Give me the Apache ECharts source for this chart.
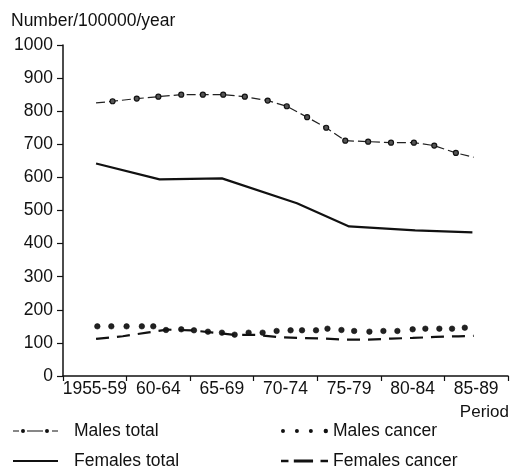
<!DOCTYPE html>
<html>
<head>
<meta charset="utf-8">
<script src="https://cdn.jsdelivr.net/npm/echarts@6/dist/echarts.min.js"></script>
<style>
  html, body { margin: 0; padding: 0; background: #fff; }
  #chart { width: 512px; height: 471px; }
</style>
</head>
<body>
<div id="chart"></div>
<script>
// Five-year periods shown on the category axis
const periods = ['1955-59', '60-64', '65-69', '70-74', '75-79', '80-84', '85-89'];

// Males, all causes (calendar year, rate per 100000 per year)
const malesTotalYears = [1957.6, 1958.9, 1960.8, 1962.5, 1964.3, 1966.0, 1967.6, 1969.3, 1971.1, 1972.6,
                         1974.2, 1975.7, 1977.2, 1979.0, 1980.8, 1982.6, 1984.2, 1985.9, 1987.3];
const malesTotal = [825, 830, 838, 844, 850, 850, 850, 844, 832, 815,
                    782, 750, 711, 708, 705, 705, 696, 674, 661];

// Females, all causes
const femalesTotalYears = [1957.6, 1962.6, 1967.5, 1973.4, 1977.5, 1982.7, 1987.2];
const femalesTotal = [642, 594, 597, 522, 452, 440, 434];

// Males, cancer
const malesCancerYears = [1957.7, 1958.8, 1960.0, 1961.2, 1962.1, 1963.1, 1964.3, 1965.3, 1966.4, 1967.5,
                          1968.5, 1969.6, 1970.7, 1971.8, 1972.9, 1973.8, 1974.9, 1975.8, 1976.9, 1977.9,
                          1979.1, 1980.2, 1981.3, 1982.5, 1983.5, 1984.6, 1985.6, 1986.6];
const malesCancer = [150, 150, 150, 150, 150, 139, 141, 138, 134, 131,
                     125, 131, 131, 136, 138, 138, 138, 143, 139, 136,
                     134, 136, 136, 141, 143, 143, 143, 146];

// Females, cancer
const femalesCancerYears = [1957.6, 1959.7, 1961.6, 1963.2, 1965.1, 1966.9, 1968.5, 1970.2, 1972.0,
                            1973.8, 1975.5, 1977.2, 1979.0, 1980.8, 1982.5, 1984.3, 1986.1, 1987.3];
const femalesCancer = [112, 120, 131, 140, 138, 131, 124, 124, 117,
                       115, 113, 110, 110, 113, 115, 118, 120, 121];

const pairs = (xs, ys) => xs.map((x, i) => [x, ys[i]]);

const INK = '#111';
const FONT = "'Liberation Sans', Arial, Helvetica, sans-serif";

// Legend glyphs
const iconMalesTotal = 'path://M0,1.4h6v1.2h-6z M8,2a2,2 0 1,0 4,0a2,2 0 1,0 -4,0z M14,1.4h16v1.2h-16z M32,2a2,2 0 1,0 4,0a2,2 0 1,0 -4,0z M39,1.4h6v1.2h-6z';
const iconFemalesTotal = 'path://M0,0h48v2.2h-48z';
const iconMalesCancer = 'path://M0,2a2,2 0 1,0 4,0a2,2 0 1,0 -4,0z M14,2a2,2 0 1,0 4,0a2,2 0 1,0 -4,0z M28,2a2,2 0 1,0 4,0a2,2 0 1,0 -4,0z M42.8,2a2.2,2.2 0 1,0 4.4,0a2.2,2.2 0 1,0 -4.4,0z';
const iconFemalesCancer = 'path://M0,0h7v2.4h-7z M12,-0.3h18v3h-18z M37,0h7v2.4h-7z';

const chart = echarts.init(document.getElementById('chart'), null, { renderer: 'canvas' });

const lastM = malesTotalYears.length - 1;

chart.setOption({
  animation: false,
  backgroundColor: '#fff',
  textStyle: { fontFamily: FONT, color: INK },
  title: {
    text: 'Number/100000/year',
    left: 11, top: 12, padding: 0,
    textStyle: { fontFamily: FONT, fontSize: 17.5, fontWeight: 'normal', color: INK }
  },
  grid: { left: 63, right: 2, top: 45, bottom: 95, containLabel: false },
  xAxis: [
    {
      type: 'category',
      data: periods,
      boundaryGap: true,
      axisLine: { lineStyle: { color: INK, width: 1.5 } },
      axisTick: { show: true, length: 5, lineStyle: { color: INK, width: 1.2 } },
      axisLabel: { fontSize: 17.5, color: INK, margin: 4, interval: 0, fontFamily: FONT },
      splitLine: { show: false },
      name: 'Period',
      nameLocation: 'end',
      nameGap: 1,
      nameTextStyle: { fontSize: 17, color: INK, align: 'right', verticalAlign: 'top', padding: [28, 0, 0, 0], fontFamily: FONT }
    },
    { type: 'value', min: 1955, max: 1990, show: false }
  ],
  yAxis: {
    type: 'value',
    min: 0, max: 1000, interval: 100,
    axisLine: { show: true, lineStyle: { color: INK, width: 1.5 } },
    axisTick: { show: true, length: 6, lineStyle: { color: INK, width: 1.2 } },
    axisLabel: { fontSize: 17.5, color: INK, margin: 10, fontFamily: FONT, formatter: v => String(v) },
    splitLine: { show: false }
  },
  legend: [
    {
      orient: 'vertical', left: 13, top: 421, padding: 0, itemGap: 10,
      itemWidth: 45, itemHeight: 14, selectedMode: false,
      itemStyle: { color: INK, borderWidth: 0 },
      textStyle: { fontSize: 17.5, color: INK, lineHeight: 20, padding: [0, 0, 0, 11], fontFamily: FONT },
      data: [
        { name: 'Males total', icon: iconMalesTotal },
        { name: 'Females total', icon: iconFemalesTotal }
      ]
    },
    {
      orient: 'vertical', left: 281, top: 421, padding: 0, itemGap: 10,
      itemWidth: 47, itemHeight: 14, selectedMode: false,
      itemStyle: { color: INK, borderWidth: 0 },
      textStyle: { fontSize: 17.5, color: INK, lineHeight: 20, fontFamily: FONT },
      data: [
        { name: 'Males cancer', icon: iconMalesCancer },
        { name: 'Females cancer', icon: iconFemalesCancer }
      ]
    }
  ],
  series: [
    {
      name: 'Males total',
      type: 'line',
      xAxisIndex: 1,
      data: pairs(malesTotalYears, malesTotal).map((p, i) => ({
        value: p,
        symbol: (i === 0 || i === lastM) ? 'none' : 'circle'
      })),
      symbolSize: 5,
      itemStyle: { color: '#555', borderColor: INK, borderWidth: 1.2 },
      lineStyle: { color: '#222', width: 1.2, type: [9, 4] }
    },
    {
      name: 'Females total',
      type: 'line',
      xAxisIndex: 1,
      data: pairs(femalesTotalYears, femalesTotal),
      symbol: 'none',
      itemStyle: { color: INK },
      lineStyle: { color: INK, width: 2.2 }
    },
    {
      name: 'Females cancer',
      type: 'line',
      xAxisIndex: 1,
      data: pairs(femalesCancerYears, femalesCancer),
      symbol: 'none',
      itemStyle: { color: INK },
      lineStyle: { color: INK, width: 2.2, type: [13, 8] }
    },
    {
      name: 'Males cancer',
      type: 'scatter',
      xAxisIndex: 1,
      data: pairs(malesCancerYears, malesCancer),
      symbol: 'circle',
      symbolSize: 5.5,
      itemStyle: { color: '#222', borderColor: INK, borderWidth: 0.6, opacity: 1 }
    }
  ]
});
</script>
</body>
</html>
